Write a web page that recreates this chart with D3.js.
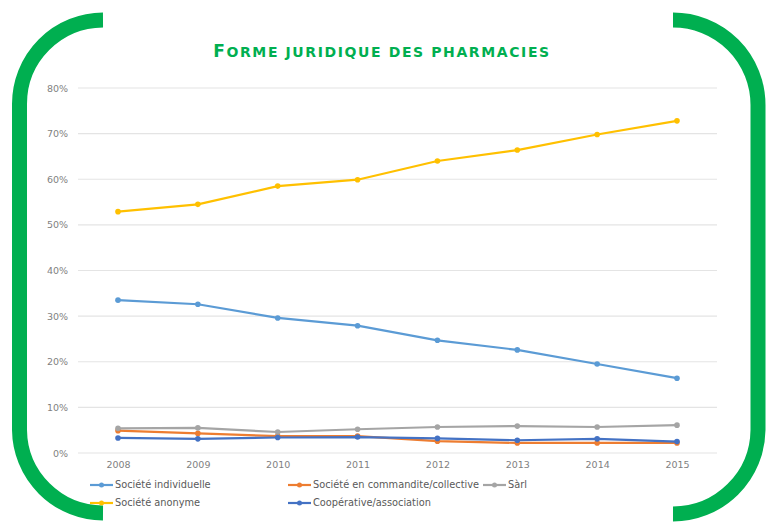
<!DOCTYPE html>
<html>
<head>
<meta charset="utf-8">
<script src="https://cdn.jsdelivr.net/npm/d3@7"></script>
<style>
  body { margin: 0; background: #fff; }
  svg { display: block; }
</style>
</head>
<body>
<div id="chart"></div>
<script>
const years = ["2008", "2009", "2010", "2011", "2012", "2013", "2014", "2015"];
const yTicks = [0, 0.1, 0.2, 0.3, 0.4, 0.5, 0.6, 0.7, 0.8];

const individuelle = [0.335, 0.326, 0.296, 0.279, 0.247, 0.226, 0.195, 0.164];
const commandite = [0.049, 0.043, 0.037, 0.037, 0.026, 0.022, 0.022, 0.022];
const sarl = [0.054, 0.055, 0.046, 0.052, 0.057, 0.059, 0.057, 0.061];
const anonyme = [0.529, 0.545, 0.585, 0.599, 0.640, 0.664, 0.698, 0.728];
const cooperative = [0.033, 0.031, 0.034, 0.035, 0.032, 0.028, 0.031, 0.025];

const series = [
  { name: "Société individuelle", values: individuelle, color: "#5B9BD5" },
  { name: "Société en commandite/collective", values: commandite, color: "#ED7D31" },
  { name: "Sàrl", values: sarl, color: "#A5A5A5" },
  { name: "Société anonyme", values: anonyme, color: "#FFC000" },
  { name: "Coopérative/association", values: cooperative, color: "#4472C4" }
];

const titleWords = ["Forme", "juridique", "des", "pharmacies"];

const width = 771, height = 530;
const svg = d3.select("#chart").append("svg")
  .attr("width", width)
  .attr("height", height);

// green brackets
const green = "#00AF50";
svg.append("path")
  .attr("d", "M103,20 A84,84 0 0 0 19.5,104 L19.5,430 A84,84 0 0 0 103,513")
  .attr("fill", "none").attr("stroke", green).attr("stroke-width", 15);
svg.append("path")
  .attr("d", "M673,20 A85,85 0 0 1 758,105 L758,430 A85,85 0 0 1 673,514")
  .attr("fill", "none").attr("stroke", green).attr("stroke-width", 15);

// title, small caps done by hand (first letter of first word bigger)
const title = svg.append("text")
  .attr("x", 382).attr("y", 57)
  .attr("text-anchor", "middle")
  .attr("font-family", "DejaVu Sans")
  .attr("font-weight", "bold")
  .attr("letter-spacing", 1.6)
  .attr("fill", green);
titleWords.forEach((w, i) => {
  const first = i === 0;
  title.append("tspan")
    .attr("font-size", first ? 17 : 14)
    .text((i > 0 ? " " : "") + w[0].toUpperCase());
  title.append("tspan")
    .attr("font-size", 14)
    .text(w.slice(1).toUpperCase());
});

const x = d3.scalePoint().domain(years).range([118, 677]);
const y = d3.scaleLinear().domain([0, 0.8]).range([453, 88]);

// gridlines
svg.append("g")
  .selectAll("line")
  .data(yTicks)
  .join("line")
  .attr("x1", 78).attr("x2", 717)
  .attr("y1", d => y(d)).attr("y2", d => y(d))
  .attr("stroke", "#E4E4E4")
  .attr("stroke-width", 1.2);

// y axis
const yAxis = svg.append("g")
  .attr("transform", "translate(78,0)")
  .call(d3.axisLeft(y).tickValues(yTicks).tickFormat(d3.format(".0%")).tickSize(0).tickPadding(10));
yAxis.select(".domain").remove();
yAxis.selectAll("text")
  .attr("font-family", "DejaVu Sans")
  .attr("font-size", 9.5)
  .attr("fill", "#7F7F7F");

// x axis
const xAxis = svg.append("g")
  .attr("transform", "translate(0,453)")
  .call(d3.axisBottom(x).tickSize(0).tickPadding(8));
xAxis.select(".domain").remove();
xAxis.selectAll("text")
  .attr("font-family", "DejaVu Sans")
  .attr("font-size", 9.5)
  .attr("fill", "#7F7F7F");

const line = d3.line()
  .x((d, i) => x(years[i]))
  .y(d => y(d));

const g = svg.append("g");
series.forEach(s => {
  g.append("path")
    .datum(s.values)
    .attr("d", line)
    .attr("fill", "none")
    .attr("stroke", s.color)
    .attr("stroke-width", 2.2)
    .attr("stroke-linejoin", "round");
  g.append("g")
    .selectAll("circle")
    .data(s.values)
    .join("circle")
    .attr("cx", (d, i) => x(years[i]))
    .attr("cy", d => y(d))
    .attr("r", 2.8)
    .attr("fill", s.color);
});

// legend
const legendPos = [[90, 485], [288, 485], [483, 485], [90, 503], [288, 503]];
const legend = svg.append("g")
  .selectAll("g")
  .data(series)
  .join("g")
  .attr("transform", (d, i) => `translate(${legendPos[i][0]},${legendPos[i][1]})`);
legend.append("line")
  .attr("x1", 0).attr("x2", 23)
  .attr("stroke", d => d.color).attr("stroke-width", 2.2);
legend.append("circle")
  .attr("cx", 11.5).attr("r", 2.5)
  .attr("fill", d => d.color);
legend.append("text")
  .attr("x", 25).attr("dy", "0.35em")
  .attr("font-family", "DejaVu Sans")
  .attr("font-size", 9.8)
  .attr("fill", "#595959")
  .text(d => d.name);
</script>
</body>
</html>
